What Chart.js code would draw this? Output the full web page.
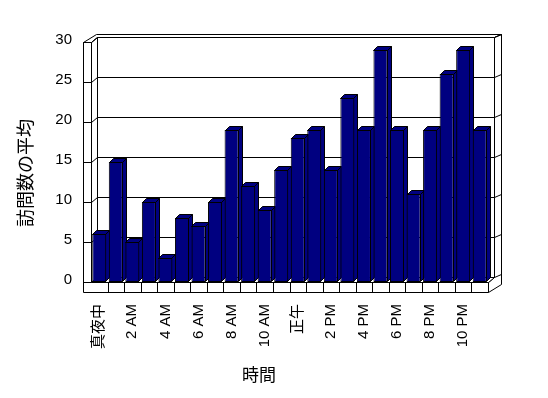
<!DOCTYPE html>
<html>
<head>
<meta charset="utf-8">
<script src="https://cdn.jsdelivr.net/npm/chart.js@4/dist/chart.umd.min.js"></script>
<style>
  html, body { margin: 0; padding: 0; background: #fff; }
  #wrap { width: 548px; height: 398px; }
</style>
</head>
<body>
<div id="wrap"><canvas id="chart" width="548" height="398"></canvas></div>
<script>
// hours of the day (only every other one gets a label)
const hours = ['真夜中', '1 AM', '2 AM', '3 AM', '4 AM', '5 AM', '6 AM', '7 AM', '8 AM', '9 AM', '10 AM', '11 AM',
  '正午', '1 PM', '2 PM', '3 PM', '4 PM', '5 PM', '6 PM', '7 PM', '8 PM', '9 PM', '10 PM', '11 PM']
const avgVisits = [6, 15, 5, 10, 3, 8, 7, 10, 19, 12, 9, 14, 18, 19, 14, 23, 19, 29, 19, 11, 19, 26, 29, 19]
const yTicks = [0, 5, 10, 15, 20, 25, 30]
const xTitle = '時間'
const yTitle = '訪問数の平均'

const FONT = "'Liberation Sans', 'Noto Sans CJK JP', sans-serif"
const NAVY = '#000080'

// depth of the walls and of the bars
const WALL = { dx: 6, dy: -5 }
const THICK = { dx: 7, dy: -3 }
const BAR = { dx: 4, dy: -4 }

function line(ctx, pts) {
  ctx.beginPath()
  ctx.moveTo(pts[0][0], pts[0][1])
  for (let i = 1; i < pts.length; i++) ctx.lineTo(pts[i][0], pts[i][1])
  ctx.stroke()
}

function poly(ctx, pts, fill) {
  ctx.beginPath()
  ctx.moveTo(pts[0][0], pts[0][1])
  for (let i = 1; i < pts.length; i++) ctx.lineTo(pts[i][0], pts[i][1])
  ctx.closePath()
  ctx.fillStyle = fill
  ctx.fill()
  ctx.stroke()
}

const box3d = {
  id: 'box3d',
  beforeDatasetsDraw(chart) {
    const ctx = chart.ctx
    const { left, right } = chart.chartArea
    const y = chart.scales.y
    const x0 = Math.round(left) + 0.5
    const x1 = Math.round(right) + 0.5
    const yb = Math.round(y.getPixelForValue(0)) + 0.5
    const yt = Math.round(y.getPixelForValue(30)) + 0.5
    const outer = 8
    ctx.save()
    ctx.strokeStyle = '#000'
    ctx.lineWidth = 1

    // back wall
    const bx0 = x0 + WALL.dx, bx1 = x1 + WALL.dx
    poly(ctx, [[bx0, yt + WALL.dy], [bx1, yt + WALL.dy], [bx1, yb + WALL.dy], [bx0, yb + WALL.dy]], '#fff')
    // top edge of walls
    poly(ctx, [[x0 - outer, yt], [x0 - outer + WALL.dx + THICK.dx, yt + WALL.dy + THICK.dy],
      [bx1 + THICK.dx, yt + WALL.dy + THICK.dy], [bx1, yt + WALL.dy], [bx0, yt + WALL.dy], [x0, yt]], '#fff')
    // right end of back wall and floor
    poly(ctx, [[bx1, yt + WALL.dy], [bx1 + THICK.dx, yt + WALL.dy + THICK.dy],
      [bx1 + THICK.dx, yb + 10 + WALL.dy + THICK.dy], [x1, yb + 10], [x1, yb], [bx1, yb + WALL.dy]], '#fff')
    // left wall inner face
    poly(ctx, [[x0, yt], [bx0, yt + WALL.dy], [bx0, yb + WALL.dy], [x0, yb]], '#fff')
    // floor top
    poly(ctx, [[x0, yb], [bx0, yb + WALL.dy], [bx1, yb + WALL.dy], [x1, yb]], '#fff')
    // left wall + floor front face
    poly(ctx, [[x0 - outer, yt], [x0, yt], [x0, yb], [x1, yb], [x1, yb + 10], [x0 - outer, yb + 10]], '#fff')

    // gridlines along left wall and back wall
    yTicks.forEach(v => {
      const py = Math.round(y.getPixelForValue(v)) + 0.5
      line(ctx, [[x0 - outer, py], [x0, py], [bx0, py + WALL.dy], [bx1, py + WALL.dy],
        [bx1 + THICK.dx, py + WALL.dy + THICK.dy]])
    })

    // category ticks on the floor front
    const step = (right - left) / hours.length
    for (let i = 1; i < hours.length; i++) {
      const px = Math.round(left + i * step) + 0.5
      line(ctx, [[px, yb], [px, yb + 10]])
    }

    // bar tops and sides
    chart.getDatasetMeta(0).data.forEach(bar => {
      const l = Math.round(bar.x - bar.width / 2) + 0.5
      const r = Math.round(bar.x + bar.width / 2) - 0.5
      const t = Math.round(bar.y) + 0.5
      const b = Math.round(bar.base) - 0.5
      poly(ctx, [[r, t], [r + BAR.dx, t + BAR.dy], [r + BAR.dx, b + BAR.dy], [r, b]], NAVY)
      poly(ctx, [[l, t], [l + BAR.dx, t + BAR.dy], [r + BAR.dx, t + BAR.dy], [r, t]], NAVY)
    })
    ctx.restore()
  },
  afterDraw(chart) {
    const ctx = chart.ctx
    ctx.save()
    ctx.fillStyle = '#000'
    ctx.textAlign = 'center'
    ctx.textBaseline = 'middle'
    ctx.font = '17px ' + FONT
    ctx.fillText(xTitle, 259, 376)
    ctx.font = '18px ' + FONT
    ctx.translate(27, 173)
    ctx.rotate(-Math.PI / 2)
    ctx.fillText(yTitle, 0, 0)
    ctx.restore()
  }
}

new Chart(document.getElementById('chart'), {
  type: 'bar',
  data: {
    labels: hours,
    datasets: [{
      data: avgVisits,
      backgroundColor: NAVY,
      borderColor: '#000',
      borderWidth: 1,
      borderSkipped: false,
      categoryPercentage: 1,
      barPercentage: 0.85
    }]
  },
  options: {
    responsive: false,
    animation: false,
    layout: { padding: { top: 42, right: 60, left: 0, bottom: 0 } },
    plugins: { legend: { display: false }, tooltip: { enabled: false } },
    scales: {
      x: {
        grid: { display: false, drawTicks: false },
        border: { display: false },
        ticks: {
          autoSkip: false,
          minRotation: 90,
          maxRotation: 90,
          padding: 22,
          color: '#000',
          font: { family: FONT, size: 15 },
          callback: (v, i) => (i % 2 === 0 ? hours[i] : '')
        },
        afterFit: s => { s.height = 116 }
      },
      y: {
        min: 0,
        max: 30,
        grid: { display: false, drawTicks: false },
        border: { display: false },
        afterBuildTicks: s => { s.ticks = yTicks.map(v => ({ value: v })) },
        ticks: {
          padding: 19,
          labelOffset: -2,
          color: '#000',
          font: { family: FONT, size: 15 }
        },
        afterFit: s => { s.width = 91 }
      }
    }
  },
  plugins: [box3d]
})
</script>
</body>
</html>
